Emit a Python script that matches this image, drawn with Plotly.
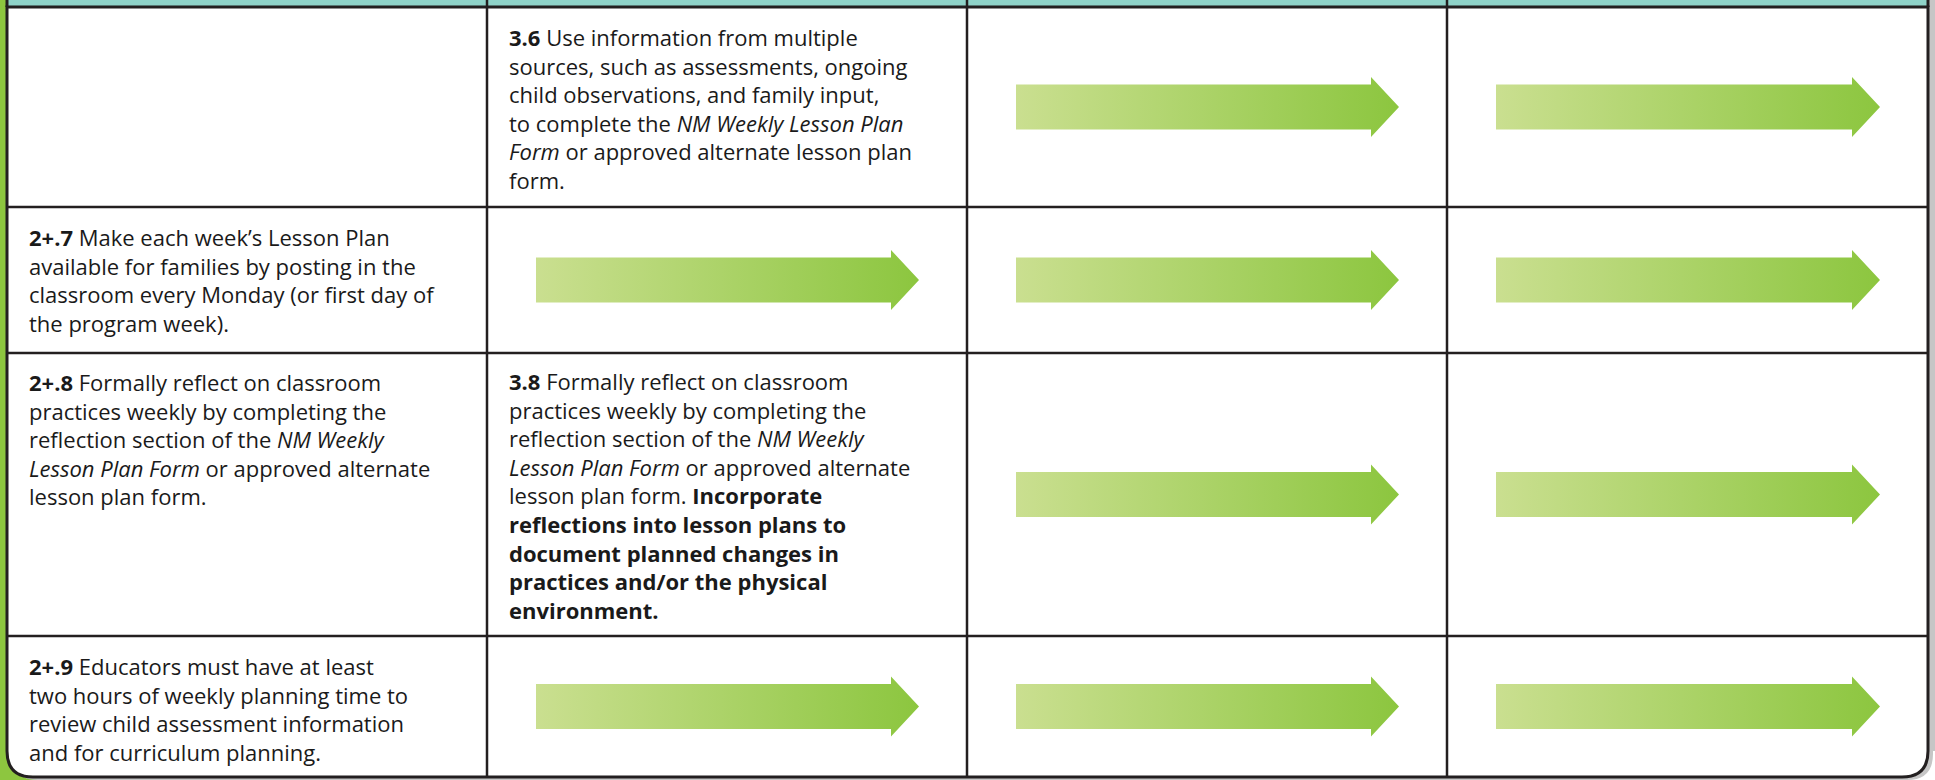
import plotly.graph_objects as go

# ---------------- data ----------------
# table cells that contain text: (row, col) and their lines
text_rows = [0, 1, 2, 2, 3]
text_cols = [1, 0, 0, 1, 0]
text_lines = [
    ["<b>3.6</b> Use information from multiple",
     "sources, such as assessments, ongoing",
     "child observations, and family input,",
     "to complete the <i>NM Weekly Lesson Plan</i>",
     "<i>Form</i> or approved alternate lesson plan",
     "form."],
    ["<b>2+.7</b> Make each week\u2019s Lesson Plan",
     "available for families by posting in the",
     "classroom every Monday (or first day of",
     "the program week)."],
    ["<b>2+.8</b> Formally reflect on classroom",
     "practices weekly by completing the",
     "reflection section of the <i>NM Weekly</i>",
     "<i>Lesson Plan Form</i> or approved alternate",
     "lesson plan form."],
    ["<b>3.8</b> Formally reflect on classroom",
     "practices weekly by completing the",
     "reflection section of the <i>NM Weekly</i>",
     "<i>Lesson Plan Form</i> or approved alternate",
     "lesson plan form. <b>Incorporate</b>",
     "<b>reflections into lesson plans to</b>",
     "<b>document planned changes in</b>",
     "<b>practices and/or the physical</b>",
     "<b>environment.</b>"],
    ["<b>2+.9</b> Educators must have at least",
     "two hours of weekly planning time to",
     "review child assessment information",
     "and for curriculum planning."],
]

# cells that contain a "continues" arrow
arrow_rows = [0, 0, 1, 1, 1, 2, 2, 3, 3, 3]
arrow_cols = [2, 3, 1, 2, 3, 2, 3, 1, 2, 3]

# ---------------- layout geometry ----------------
W, H = 1935, 780
X_EDGES = [7, 487, 967, 1447, 1928]
Y_EDGES = [7, 207, 353, 636, 777]
TEXT_FIRST_BASELINE = [47.7, 248, 393, 392.3, 677]
TEXT_PAD = 20
FONT = "Open Sans"
FONT_SIZE = 22
INK = "#231f20"
GREEN = "#8dc63f"
TEAL = "#8fd3c9"
SHADOW = "#c6c6c6"

fig = go.Figure()

# arrows
for r, c in zip(arrow_rows, arrow_cols):
    left = X_EDGES[c] + 49
    tip = X_EDGES[c + 1] - 48
    base = tip - 28
    cy = (Y_EDGES[r] + Y_EDGES[r + 1]) / 2
    xs = [left, base, base, tip, base, base, left, left]
    ys = [cy - 22.5, cy - 22.5, cy - 30, cy, cy + 30, cy + 22.5, cy + 22.5, cy - 22.5]
    fig.add_trace(go.Scatter(
        x=xs, y=ys, mode="lines", fill="toself",
        line=dict(width=0, color="rgba(0,0,0,0)"),
        fillgradient=dict(type="horizontal",
                          colorscale=[[0, "#cadf90"], [1, "#8cc63f"]]),
        hoverinfo="skip", showlegend=False))

shapes = []
# green left stripe / bottom-left outside
shapes.append(dict(type="rect", x0=0, x1=60, y0=0, y1=H, fillcolor=GREEN,
                   line=dict(width=0), layer="below"))
R = 26
def frame_path(dx=0, dy=0):
    x0, x1 = X_EDGES[0] + dx, X_EDGES[-1] + dx
    y0, y1 = Y_EDGES[0] + dy, Y_EDGES[-1] + dy
    return (f"M {x0},{y0} L {x1},{y0} L {x1},{y1 - R} Q {x1},{y1} {x1 - R},{y1} "
            f"L {x0 + R},{y1} Q {x0},{y1} {x0},{y1 - R} Z")
# shadow
shapes.append(dict(type="path", path=frame_path(5, 3), fillcolor=SHADOW,
                   line=dict(width=0), layer="below"))
shapes.append(dict(type="rect", x0=X_EDGES[-1], x1=W, y0=0, y1=Y_EDGES[-1] - R,
                   fillcolor=SHADOW, line=dict(width=0), layer="below"))
# teal header band
shapes.append(dict(type="rect", x0=X_EDGES[0], x1=X_EDGES[-1], y0=0, y1=Y_EDGES[0],
                   fillcolor=TEAL, line=dict(width=0), layer="below"))
# white frame
shapes.append(dict(type="path", path=frame_path(), fillcolor="white",
                   line=dict(width=3, color=INK), layer="below"))
# borders continuing into the top band
for x in (X_EDGES[0], X_EDGES[-1]):
    shapes.append(dict(type="line", x0=x, x1=x, y0=0, y1=Y_EDGES[0],
                       line=dict(width=3, color=INK), layer="below"))
# inner grid
for x in X_EDGES[1:-1]:
    shapes.append(dict(type="line", x0=x, x1=x, y0=0, y1=Y_EDGES[-1],
                       line=dict(width=2.5, color=INK), layer="below"))
for y in Y_EDGES[1:-1]:
    shapes.append(dict(type="line", x0=X_EDGES[0], x1=X_EDGES[-1], y0=y, y1=y,
                       line=dict(width=2.5, color=INK), layer="below"))

annotations = []
for r, c, lines, b0 in zip(text_rows, text_cols, text_lines, TEXT_FIRST_BASELINE):
    annotations.append(dict(
        x=X_EDGES[c] + TEXT_PAD, y=b0 - 1.069 * FONT_SIZE - 4.5,
        xref="x", yref="y", xanchor="left", yanchor="top",
        text="<br>".join(lines), showarrow=False, align="left",
        font=dict(family=FONT, size=FONT_SIZE, color="#1a1a1a")))

fig.update_layout(
    width=W, height=H, margin=dict(l=0, r=0, t=0, b=0),
    paper_bgcolor="white", plot_bgcolor="white",
    xaxis=dict(range=[0, W], visible=False, fixedrange=True),
    yaxis=dict(range=[H, 0], visible=False, fixedrange=True),
    shapes=shapes, annotations=annotations, showlegend=False)

fig.write_html("out.html", config={"displayModeBar": False},
               post_script="document.body.style.margin='0';document.body.style.overflow='hidden';")
